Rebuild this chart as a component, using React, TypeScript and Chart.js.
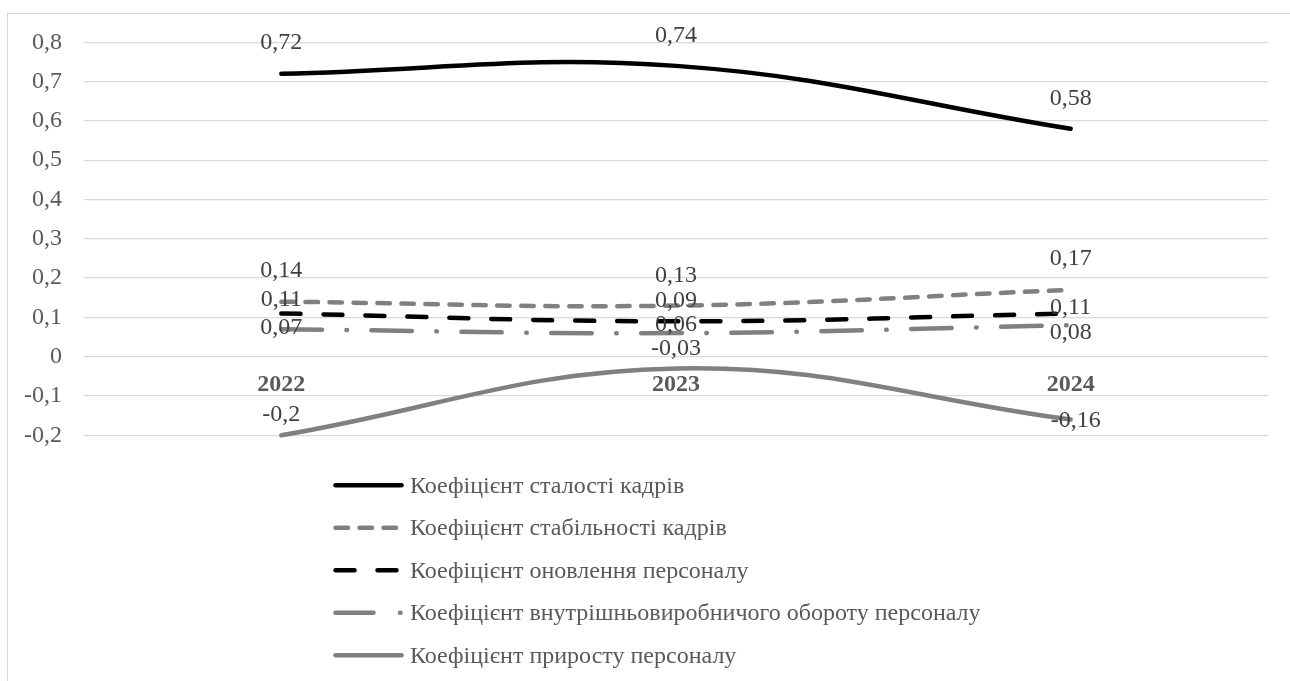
import { useEffect, useRef } from 'react';
import { Chart, registerables } from 'chart.js';

Chart.register(...registerables);

// ---- data ----
const categories = ['2022', '2023', '2024'];
const seriesLabels = [
  'Коефіцієнт сталості кадрів',
  'Коефіцієнт стабільності кадрів',
  'Коефіцієнт оновлення персоналу',
  'Коефіцієнт внутрішньовиробничого обороту персоналу',
  'Коефіцієнт приросту персоналу',
];
const stalistValues = [0.72, 0.74, 0.58];
const stabilnistValues = [0.14, 0.13, 0.17];
const onovlenniaValues = [0.11, 0.09, 0.11];
const oborotValues = [0.07, 0.06, 0.08];
const prirostValues = [-0.2, -0.03, -0.16];
const yMin = -0.2;
const yMax = 0.8;
const yStep = 0.1;

// ---- style ----
const FONT = "'Liberation Serif', 'Times New Roman', serif";
const FONT_SIZE = 24;
const BLACK = '#000000';
const GRAY = '#808080';
const fmt = (v: number, d: number) => String(Math.round(v * Math.pow(10, d)) / Math.pow(10, d)).replace('.', ',');

const dataLabelPlugin = {
  id: 'dataLabels',
  afterDatasetsDraw(chart: any) {
    const ctx = chart.ctx;
    ctx.save();
    ctx.font = `${FONT_SIZE}px ${FONT}`;
    ctx.fillStyle = '#404040';
    ctx.textAlign = 'center';
    ctx.textBaseline = 'middle';
    chart.data.datasets.forEach((ds: any, i: number) => {
      const meta = chart.getDatasetMeta(i);
      const offs = ds.labelOffsets || [];
      meta.data.forEach((pt: any, j: number) => {
        const o = offs[j] || [0, -30];
        ctx.fillText(fmt(ds.data[j], 2), pt.x + o[0], pt.y + o[1]);
      });
    });
    ctx.restore();
  },
};

const lineLegendPlugin = {
  id: 'lineLegend',
  afterDraw(chart: any) {
    const { ctx, chartArea } = chart;
    const x0 = 335.5;
    const x1 = 401.5;
    const tx = 410;
    const rowH = 42.5;
    const y0 = chartArea.bottom + 50;
    ctx.save();
    ctx.font = `${FONT_SIZE}px ${FONT}`;
    ctx.textBaseline = 'middle';
    ctx.textAlign = 'left';
    chart.data.datasets.forEach((ds: any, i: number) => {
      const y = y0 + i * rowH;
      ctx.beginPath();
      ctx.strokeStyle = ds.borderColor;
      ctx.lineWidth = ds.borderWidth;
      ctx.lineCap = 'round';
      ctx.setLineDash(ds.legendDash || ds.borderDash || []);
      ctx.lineDashOffset = 0;
      ctx.moveTo(x0, y);
      ctx.lineTo(x1, y);
      ctx.stroke();
      ctx.setLineDash([]);
      ctx.fillStyle = '#595959';
      ctx.fillText(ds.label, tx, y + 1);
    });
    ctx.restore();
  },
};

export default function App() {
  const ref = useRef<HTMLCanvasElement>(null);
  useEffect(() => {
    document.body.style.overflow = 'hidden';
    const common = {
      borderWidth: 4.5,
      borderCapStyle: 'round',
      borderJoinStyle: 'round',
      pointRadius: 0,
      pointHoverRadius: 0,
      tension: 0.4,
      fill: false,
      clip: false,
    };
    const chart = new Chart(ref.current as HTMLCanvasElement, {
      type: 'line',
      data: {
        labels: categories,
        datasets: [
          { ...common, label: seriesLabels[0], data: stalistValues, borderColor: BLACK, borderDash: [], labelOffsets: [[0, -31], [0, -30], [0, -30]] },
          { ...common, label: seriesLabels[1], data: stabilnistValues, borderColor: GRAY, borderDash: [12.5, 11.5], labelOffsets: [[0, -31], [0, -30], [0, -31]] },
          { ...common, label: seriesLabels[2], data: onovlenniaValues, borderColor: BLACK, borderDash: [19, 23], labelOffsets: [[0, -14], [0, -21], [0, -6]] },
          { ...common, label: seriesLabels[3], data: oborotValues, borderColor: GRAY, borderDash: [40.5, 24.5, 0.5, 24.5], legendDash: [38, 26.5, 0.5, 24.5], labelOffsets: [[0, -1], [0, -8], [0, 7]] },
          { ...common, label: seriesLabels[4], data: prirostValues, borderColor: GRAY, borderDash: [], labelOffsets: [[0, -21], [0, -20], [5, 1]] },
        ] as any,
      },
      options: {
        responsive: false,
        devicePixelRatio: 1,
        animation: false,
        layout: { padding: { left: 0, right: 22, top: 42.3, bottom: 245.7 } },
        plugins: {
          legend: { display: false },
          tooltip: { enabled: false },
        },
        scales: {
          y: {
            min: yMin,
            max: yMax,
            afterFit: (s: any) => { s.width = 84; },
            ticks: {
              stepSize: yStep,
              padding: 22,
              color: '#595959',
              font: { family: FONT, size: FONT_SIZE },
              callback: (v: any) => fmt(Number(v), 1),
            },
            grid: { color: '#d9d9d9', lineWidth: 1.25, drawTicks: false },
            border: { display: false },
          },
          x: {
            type: 'category',
            offset: true,
            position: { y: 0 } as any,
            grid: { display: false, drawTicks: false },
            border: { display: false },
            ticks: {
              padding: 14,
              color: '#595959',
              font: { family: FONT, size: FONT_SIZE, weight: 'bold' },
            },
          },
        },
      },
      plugins: [dataLabelPlugin, lineLegendPlugin],
    } as any);
    return () => chart.destroy();
  }, []);
  return (
    <div style={{ position: 'fixed', left: 0, top: 0, width: 1290, height: 681, overflow: 'hidden', background: '#fff' }}>
      <div style={{ position: 'absolute', left: 7, top: 13, width: 1400, height: 800, border: '1.5px solid #d9d9d9' }} />
      <canvas ref={ref} width={1290} height={681} style={{ position: 'absolute', left: 0, top: 0 }} />
    </div>
  );
}
